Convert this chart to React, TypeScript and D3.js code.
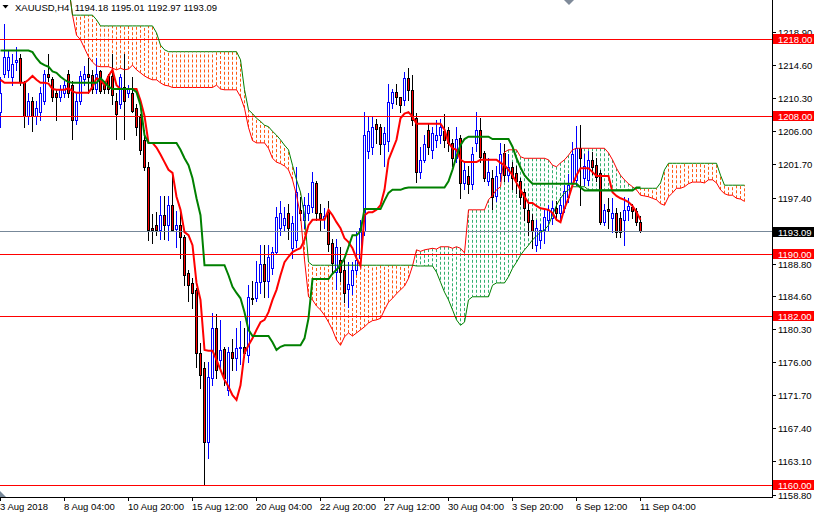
import { useEffect, useRef } from "react";
import * as d3 from "d3";

// H4 candles, one entry per bar (bar 0 = 3 Aug 2018, bar 160 = 11 Sep 04:00)
const OPEN = [
  1208.5, 1213.5, 1214, 1213, 1215, 1215.5, 1212.4, 1208, 1210, 1208,
  1208.5, 1210, 1213.5, 1212.8, 1211, 1210.5, 1211, 1213.5, 1212, 1207.5,
  1210, 1212.8, 1213.5, 1213.3, 1211.5, 1213.8, 1212, 1213.2, 1213.2, 1210,
  1209.5, 1211.8, 1211, 1211, 1209, 1207.9, 1204.9, 1201.4, 1193.5, 1193.8,
  1193.2, 1195.1, 1193.8, 1196.4, 1193.3, 1193.8, 1192.3, 1187.6, 1186.3, 1185.4,
  1177.2, 1175.2, 1165.6, 1174, 1180.4, 1176.3, 1177.7, 1172.4, 1177.3, 1176.6,
  1177.8, 1178, 1176.9, 1184.4, 1184.4, 1186.4, 1188.8, 1186.5, 1188.2, 1190.3,
  1193.5, 1193.8, 1195.4, 1190.8, 1191.9, 1195.8, 1194.5, 1195.4, 1196.2, 1199.3,
  1195.4, 1194.8, 1195.5, 1191.5, 1187.7, 1189.3, 1188, 1185.5, 1186, 1188,
  1189.5, 1193, 1203.5, 1204, 1207, 1206.5, 1204.3, 1204.8, 1209.7, 1211.1,
  1210.5, 1210.1, 1212.9, 1211.4, 1207.7, 1200.7, 1202.3, 1206.2, 1203.6, 1204.9,
  1205.5, 1206, 1206.2, 1204.5, 1202.5, 1205.1, 1199.3, 1200.2, 1199.1, 1204.5,
  1206.2, 1203.2, 1199.6, 1199.9, 1197.6, 1200.6, 1203.2, 1200.3, 1201.4, 1200.6,
  1199.6, 1198.1, 1195.8, 1194.5, 1191.2, 1191.9, 1193.2, 1194.5, 1194.8, 1196,
  1195.4, 1196, 1197.5, 1199.3, 1199.7, 1203.8, 1200, 1199.7, 1202.3, 1201.6,
  1200.6, 1194.2, 1195.9, 1194.8, 1195.4, 1194.7, 1194.5, 1195.8, 1196.2, 1195.6, 1194.18,
];
const HIGH = [
  1213, 1220, 1216.5, 1216, 1217, 1216, 1212.5, 1211, 1210.5, 1210,
  1211.8, 1214, 1216, 1213, 1211.5, 1212, 1212.5, 1214, 1212.5, 1211,
  1213.8, 1214.5, 1215.5, 1214, 1215.5, 1214, 1212.5, 1213.5, 1216, 1211,
  1213.5, 1216, 1212, 1213, 1209.5, 1208.3, 1206.2, 1202, 1195.3, 1195.5,
  1197.6, 1197.6, 1197.6, 1200.3, 1195.6, 1195.6, 1192.5, 1188, 1187, 1185.6,
  1178.5, 1176, 1176, 1182.4, 1182.3, 1181.5, 1178, 1178, 1179, 1180.5,
  1181.3, 1180.4, 1186, 1186.5, 1189.2, 1191.2, 1191.2, 1191.2, 1191, 1196.2,
  1197, 1196.2, 1196.5, 1195, 1201.4, 1197.5, 1197.5, 1198, 1200.7, 1199.6,
  1196.5, 1196, 1197, 1192, 1192, 1191, 1189.5, 1189, 1189, 1193,
  1194.5, 1208.5, 1208, 1208, 1207.6, 1207, 1206.6, 1212.1, 1211.5, 1212.1,
  1210.5, 1213.7, 1214.2, 1213.3, 1208.4, 1204, 1205.5, 1207, 1206.5, 1207.5,
  1207.6, 1208.3, 1206.5, 1205, 1206.6, 1205.5, 1202, 1201.5, 1204, 1208.5,
  1207.7, 1203.5, 1202.5, 1201, 1201.5, 1204.5, 1204.4, 1203, 1202, 1201.5,
  1200, 1198.5, 1196.5, 1195.2, 1194.5, 1194, 1196, 1196.4, 1197, 1197,
  1197.5, 1199, 1200.5, 1204.6, 1206.7, 1206.8, 1203, 1203.5, 1203.3, 1202.5,
  1201, 1196.5, 1197.4, 1197.4, 1196, 1195.5, 1197.5, 1197.3, 1196.5, 1196, 1195.01,
];
const LOW = [
  1206.5, 1213, 1213, 1212, 1214, 1212, 1206.5, 1207, 1206, 1207,
  1207.5, 1209.5, 1212.5, 1210, 1207.5, 1210, 1210.5, 1210.5, 1205, 1207,
  1209.5, 1212, 1211, 1211, 1211, 1211, 1211, 1211, 1209.5, 1205,
  1209, 1205, 1210.5, 1208.5, 1205.5, 1203, 1201, 1191.9, 1191.5, 1192.5,
  1192, 1192, 1191.9, 1193, 1191, 1189.5, 1186, 1184, 1183, 1175.4,
  1172.7, 1160, 1163.5, 1173, 1174, 1175.3, 1173, 1171.7, 1175, 1175,
  1175.8, 1176.7, 1176, 1183.5, 1184, 1185, 1184.5, 1184.5, 1187.5, 1190,
  1192.5, 1193, 1192, 1189.6, 1191, 1194.5, 1193.5, 1194.5, 1195.5, 1194.5,
  1193, 1193.5, 1190.5, 1187.5, 1185.5, 1186.5, 1183.8, 1183.2, 1184.9, 1187.5,
  1188.5, 1192.5, 1202.5, 1203, 1204.5, 1203, 1201.5, 1203.5, 1209, 1209.5,
  1208.5, 1209.4, 1210.1, 1206.8, 1199.4, 1200, 1202, 1203, 1202.5, 1204,
  1204.5, 1204, 1203.5, 1201.5, 1202, 1197.3, 1198.5, 1198, 1198.5, 1203.5,
  1202, 1199.5, 1199, 1195.9, 1197, 1199.5, 1199.5, 1199.5, 1198.5, 1198,
  1196.5, 1194.5, 1192.5, 1190.8, 1190.5, 1190.8, 1191.5, 1193, 1194, 1194.5,
  1194.5, 1195.5, 1196.8, 1199, 1199, 1196.4, 1199, 1199, 1200.5, 1199.5,
  1194, 1193.8, 1193.5, 1192.9, 1192.3, 1192.3, 1191.2, 1194.5, 1194.8, 1193.8, 1192.97,
];
const CLOSE = [
  1211, 1215.7, 1215.7, 1214.8, 1215.3, 1212.4, 1208, 1210, 1208, 1209,
  1211, 1213.5, 1213, 1210.5, 1210.5, 1211.5, 1212, 1211, 1207.5, 1210,
  1213.2, 1213.5, 1213, 1211.5, 1213.5, 1211.3, 1211.5, 1211.5, 1210.7, 1208.2,
  1213, 1210, 1211.5, 1208.7, 1206.5, 1203.6, 1201.4, 1193.2, 1193.2, 1193.2,
  1195.1, 1193.8, 1196.4, 1193.2, 1193.8, 1192.3, 1187.3, 1186, 1185, 1177.2,
  1174.3, 1165.6, 1174.1, 1180.4, 1175, 1177.6, 1174, 1177.3, 1176.6, 1177.8,
  1178, 1177.2, 1184.5, 1184.2, 1186.4, 1188.8, 1186.5, 1189.7, 1190.3, 1194.9,
  1195.4, 1194.7, 1193.5, 1194.1, 1198.1, 1195.4, 1196.4, 1196.4, 1199.4, 1195.4,
  1194.7, 1195, 1191.3, 1188.9, 1191, 1187.7, 1185, 1186.2, 1188, 1189.3,
  1193.5, 1205.5, 1206, 1206.5, 1206.3, 1204.3, 1205.8, 1209.8, 1211.1, 1210.5,
  1209.4, 1212.9, 1211.4, 1207.5, 1200.7, 1202.3, 1204.4, 1204, 1205.8, 1205.5,
  1206.6, 1204.9, 1204.5, 1202.5, 1205, 1199.3, 1201, 1199.1, 1203, 1206.2,
  1202.7, 1200, 1200.7, 1197.5, 1200.2, 1203, 1200.3, 1201.4, 1200, 1199.6,
  1197.5, 1196, 1194.2, 1193, 1193.4, 1193.2, 1194.9, 1195.8, 1196.1, 1195.4,
  1196.4, 1198.2, 1199, 1203, 1203.8, 1202.5, 1201.5, 1202.3, 1201.4, 1200.1,
  1194.2, 1195.8, 1195.7, 1195.4, 1192.9, 1192.9, 1195.8, 1196.3, 1195.6, 1194.2, 1193.09,
];

// Ichimoku lines
const TENKAN = [
  1212.7, 1212.3, 1212.3, 1212.3, 1212.3, 1212.3, 1212.3, 1212.7, 1213.2, 1212.7,
  1212.3, 1212.3, 1212.2, 1211.5, 1211.4, 1211.4, 1211.4, 1211.6, 1211.2, 1211,
  1211, 1211, 1211, 1211.8, 1212.9, 1212.7, 1212, 1213.2, 1214, 1212,
  1211.5, 1211.5, 1211.5, 1211.5, 1211.5, 1210, 1208, 1204.5, 1204.5, 1203.9,
  1203, 1202, 1201, 1200.6, 1197.5, 1195.8, 1192.9, 1192.5, 1191.2, 1186.3,
  1184.1, 1177.6, 1177.5, 1177.5, 1176.3, 1175, 1173.7, 1172.8, 1171.7, 1171.1,
  1173, 1177.2, 1178.2, 1179.1, 1180.2, 1181.2, 1181.5, 1182.5, 1184.1, 1185.4,
  1187.3, 1189, 1189.7, 1190.3, 1190.6, 1190.8, 1191.9, 1193.8, 1194.5, 1194.5,
  1194.5, 1194.5, 1195.8, 1195.1, 1194.2, 1193.4, 1192.1, 1191.6, 1190.8, 1189.5,
  1188.5, 1195.1, 1195.5, 1195.5, 1195.8, 1196.4, 1198.4, 1202.3, 1203.6, 1204.9,
  1207.7, 1208.3, 1208.5, 1207.9, 1207, 1207, 1207, 1207, 1207, 1207,
  1207, 1206.2, 1204.5, 1203.8, 1203.6, 1202.3, 1202, 1202, 1202, 1202,
  1202.3, 1202.3, 1202.3, 1202.3, 1202.3, 1201.9, 1201.6, 1201, 1200.3, 1199.3,
  1198.4, 1197.5, 1196.7, 1196.7, 1196.3, 1196, 1195.9, 1195.8, 1195.4, 1194.5,
  1194.2, 1196, 1197.3, 1199, 1200.3, 1201.2, 1201.2, 1201.2, 1200.7, 1200.2,
  1200.2, 1200.2, 1200.2, 1198.1, 1197.6, 1197.3, 1197.1, 1196.8, 1196.3, 1195.5, 1194.5,
];
const KIJUN = [
  1216.5, 1216.5, 1216.5, 1216.5, 1216.5, 1216.5, 1216.5, 1216.5, 1216.3, 1215.5,
  1214.9, 1214.6, 1214.4, 1213.8, 1213.6, 1213.1, 1212.7, 1212.4, 1212.3, 1212.3,
  1212.3, 1212.3, 1212.3, 1212.3, 1212.3, 1212.9, 1212.4, 1211.8, 1211.5, 1211.5,
  1211.5, 1211.5, 1211.5, 1211.5, 1211.1, 1209.4, 1205.5, 1204.5, 1204.5, 1204.5,
  1204.5, 1204.5, 1204.5, 1204.5, 1204.5, 1203.6, 1202.5, 1201.6, 1199.9, 1197.3,
  1195.1, 1188.6, 1188.6, 1188.6, 1188.6, 1188.6, 1188.6, 1187.3, 1185.8, 1185,
  1184.3, 1182.5, 1180.2, 1179.4, 1179.4, 1179.4, 1179.4, 1179.4, 1178.6, 1177.6,
  1178, 1178.2, 1178.2, 1178.2, 1178.2, 1178.2, 1179.1, 1181.7, 1186.8, 1186.8,
  1186.8, 1186.8, 1186.8, 1187.5, 1188, 1188.6, 1189.5, 1191, 1192.5, 1192.5,
  1193, 1195.9, 1195.9, 1195.9, 1195.9, 1195.9, 1197, 1198, 1198.4, 1198.4,
  1198.4, 1198.6, 1198.7, 1198.7, 1198.7, 1198.7, 1198.7, 1198.7, 1198.7, 1198.7,
  1198.7, 1198.7, 1199.5, 1201, 1202.8, 1204.2, 1205, 1205.3, 1205.3, 1205.3,
  1205.3, 1205.3, 1205.3, 1205, 1205, 1205, 1205, 1205, 1204, 1202.5,
  1201.3, 1200.3, 1199.7, 1199.2, 1199.2, 1199.2, 1199.2, 1199.2, 1199.2, 1199.2,
  1199.2, 1199.2, 1199.2, 1199.2, 1199.2, 1198.7, 1198.3, 1198.3, 1198.3, 1198.3,
  1198.3, 1198.3, 1198.3, 1198.3, 1198.3, 1198.3, 1198.3, 1198.3, 1198.3, 1198.7, 1198.7,
];
// Senkou spans, already shifted 26 bars forward (bars 0..186)
const SPAN_A = [
  1225, 1225, 1225, 1225, 1225, 1225, 1225, 1225, 1225, 1225,
  1225, 1225, 1225, 1225, 1225, 1225, 1225, 1225, 1221.1, 1218.5,
  1217.9, 1216.8, 1215.7, 1215, 1214.5, 1214.4, 1214.4, 1214.4, 1214.2, 1214,
  1214.2, 1214, 1214.1, 1214.6, 1214, 1213.6, 1213.2, 1212.9, 1212.7, 1212.7,
  1212.3, 1212, 1211.9, 1211.7, 1211.7, 1211.7, 1211.7, 1211.7, 1211.7, 1211.7,
  1211.7, 1211.7, 1211.7, 1211.7, 1212, 1211.5, 1211.4, 1211.4, 1211.4, 1211.4,
  1210.5, 1209, 1206.5, 1204.8, 1204.5, 1204.5, 1204.5, 1203.8, 1202.5, 1202,
  1201.8, 1201.5, 1201, 1199.7, 1197.7, 1195.1, 1189.3, 1184.5, 1184.1, 1183.3,
  1182.8, 1182.1, 1181.2, 1180.2, 1178.9, 1178.2, 1179.3, 1179.8, 1179.4, 1179.8,
  1180.2, 1180.6, 1181.1, 1181.4, 1181.5, 1181.7, 1182.8, 1183.8, 1184.3, 1184.9,
  1185.4, 1185.9, 1186.9, 1188.5, 1190.6, 1190.4, 1190.6, 1190.7, 1190.8, 1190.7,
  1191, 1191, 1191, 1190.8, 1191, 1190.8, 1190.2, 1195.8, 1195.8, 1195.8,
  1195.8, 1195.8, 1197.1, 1197.7, 1198.4, 1198.8, 1203.3, 1203.6, 1203.6, 1203.6,
  1202.7, 1202.5, 1202.5, 1202.5, 1202.5, 1202.5, 1202.5, 1202.3, 1201.6, 1201.4,
  1201.9, 1202.3, 1202.9, 1203.6, 1203.8, 1203.8, 1203.8, 1203.8, 1203.8, 1203.8,
  1203.8, 1203.8, 1203.2, 1202.3, 1201.2, 1200.3, 1199.7, 1199.2, 1198.8, 1198.4,
  1197.7, 1197.6, 1197.5, 1197.3, 1197.1, 1196.6, 1196.4, 1197.5, 1198, 1198.6,
  1198.6, 1198.8, 1199.2, 1199.4, 1199.4, 1199.4, 1199.3, 1199.7, 1199.7, 1199.3,
  1198.4, 1197.9, 1197.7, 1197.7, 1197.3, 1197.2, 1196.9,
];
const SPAN_B = [
  1225, 1225, 1225, 1225, 1225, 1225, 1225, 1225, 1225, 1225,
  1225, 1225, 1225, 1225, 1225, 1225, 1225, 1225, 1221.1, 1221.1,
  1221.1, 1221.1, 1221.1, 1221.1, 1220.5, 1219.7, 1219.7, 1219.7, 1219.7, 1219.7,
  1219.7, 1219.7, 1219.7, 1219.7, 1219.7, 1219.7, 1219.7, 1219.7, 1219.7, 1218.8,
  1217.2, 1216.6, 1216.35, 1216.35, 1216.35, 1216.35, 1216.35, 1216.35, 1216.35, 1216.35,
  1216.35, 1216.35, 1216.35, 1216.35, 1216.35, 1216.35, 1216.35, 1216.35, 1216.35, 1216.35,
  1215.3, 1211.4, 1208.8, 1208.3, 1207.7, 1207.3, 1206.8, 1206.6, 1206, 1205.5,
  1204.9, 1204.2, 1203.6, 1201.6, 1199.7, 1198.1, 1195.1, 1189, 1188.6, 1188.6,
  1188.6, 1188.6, 1188.6, 1188.6, 1188.6, 1188.6, 1188.6, 1188.6, 1188.6, 1188.6,
  1188.6, 1188.6, 1188.6, 1188.6, 1188.6, 1188.6, 1188.6, 1188.6, 1188.6, 1188.6,
  1188.6, 1188.6, 1188.6, 1188.6, 1188.5, 1188.5, 1188.5, 1188.5, 1188.5, 1187.7,
  1186.4, 1185.1, 1184.1, 1182.8, 1181.5, 1180.8, 1181.2, 1184.1, 1184.5, 1184.5,
  1184.5, 1184.5, 1184.5, 1186, 1186.3, 1186.3, 1186.3, 1187.1, 1188.2, 1189,
  1189.9, 1190.6, 1191.2, 1191.9, 1192.4, 1192.9, 1193.2, 1193.8, 1195.1, 1196.4,
  1197.3, 1198, 1198.4, 1198.8, 1198.8, 1198.8, 1198.8, 1198.4, 1198.4, 1198.4,
  1198.4, 1198.4, 1198.4, 1198.4, 1198.4, 1198.4, 1198.4, 1198.4, 1198.4, 1198.6,
  1198.6, 1198.6, 1198.6, 1198.6, 1198.6, 1199.3, 1201, 1201.85, 1201.85, 1201.85,
  1201.85, 1201.85, 1201.85, 1201.85, 1201.85, 1201.85, 1201.85, 1201.85, 1201.85, 1201.85,
  1200.3, 1199, 1199, 1199, 1199, 1199, 1199,
];

const LEVELS = [1218, 1208, 1190, 1182, 1160];
const BID = 1193.09;
const PRICE_TICKS = [
  "1218.90", "1214.60", "1210.30", "1206.00", "1201.70", "1197.40", "1193.10", "1188.80",
  "1184.60", "1180.30", "1176.00", "1171.70", "1167.40", "1163.10", "1158.80",
];
const TIME_BARS = [0, 16, 32, 48, 64, 80, 96, 112, 128, 144, 160];
const TIME_LABELS = [
  "3 Aug 2018", "8 Aug 04:00", "10 Aug 20:00", "15 Aug 12:00", "20 Aug 04:00", "22 Aug 20:00",
  "27 Aug 12:00", "30 Aug 04:00", "3 Sep 20:00", "6 Sep 12:00", "11 Sep 04:00",
];
const HEADER = "XAUUSD,H4  1194.18 1195.01 1192.97 1193.09";

export default function App() {
  const ref = useRef<SVGSVGElement>(null);

  useEffect(() => {
    const svg = d3.select(ref.current);
    svg.selectAll("*").remove();

    const W = 814, H = 514;
    const RIGHT = 772, BOTTOM = 497;
    const FONT = "'Liberation Sans', Arial, sans-serif";
    const ORANGE = "#ff5a14";
    const CLOUD_GREEN = "#33b070";

    // 4px per bar, bar i centred on pixel 4i
    const x = d3.scaleLinear().domain([0, 1]).range([0, 4]);
    const y = d3.scaleLinear().domain([1218, 1160]).range([39, 485.3]);
    const py = (v: number) => Math.round(y(v)) + 0.5;

    svg.append("rect").attr("width", W).attr("height", H).attr("fill", "#fff");
    svg.append("defs").append("clipPath").attr("id", "plot")
      .append("rect").attr("width", RIGHT).attr("height", BOTTOM);
    const plot = svg.append("g").attr("clip-path", "url(#plot)");

    // kumo hatch: a dotted stroke per bar between the two spans
    plot.append("g").selectAll("line").data(SPAN_A).join("line")
      .attr("x1", (_, i) => x(i) + 0.5).attr("x2", (_, i) => x(i) + 0.5)
      .attr("y1", (d) => y(d)).attr("y2", (_, i) => y(SPAN_B[i]))
      .attr("stroke", (d, i) => (SPAN_B[i] > d ? ORANGE : CLOUD_GREEN))
      .attr("stroke-width", 1).attr("stroke-dasharray", "3,2");

    // candles
    const candles = plot.append("g");
    OPEN.forEach((o, i) => {
      const c = CLOSE[i];
      const up = c >= o;
      const cx = x(i) + 0.5;
      candles.append("line")
        .attr("x1", cx).attr("x2", cx)
        .attr("y1", Math.round(y(HIGH[i]))).attr("y2", Math.round(y(LOW[i])) + 1)
        .attr("stroke", up ? "#0000ff" : "#000").attr("stroke-width", 1);
      const top = Math.round(y(Math.max(o, c)));
      const bot = Math.round(y(Math.min(o, c)));
      candles.append("rect")
        .attr("x", cx - 1).attr("width", 2)
        .attr("y", top + 0.5).attr("height", Math.max(bot - top, 0))
        .attr("fill", up ? "#fff" : "#ff0000")
        .attr("stroke", up ? "#0000ff" : "#000").attr("stroke-width", 1);
    });

    // horizontal levels and bid line
    LEVELS.forEach((v) => {
      plot.append("line").attr("x1", 0).attr("x2", RIGHT)
        .attr("y1", py(v)).attr("y2", py(v)).attr("stroke", "#ff0000");
    });
    plot.append("line").attr("x1", 0).attr("x2", RIGHT)
      .attr("y1", py(BID)).attr("y2", py(BID)).attr("stroke", "#778899");

    // ichimoku lines
    const line = (arr: number[]) =>
      d3.line<number>().x((_, i) => x(i) + 0.5).y((d) => y(d))(arr);
    plot.append("path").attr("d", line(SPAN_A)).attr("fill", "none").attr("stroke", "#ff0000").attr("stroke-width", 1);
    plot.append("path").attr("d", line(SPAN_B)).attr("fill", "none").attr("stroke", "#008000").attr("stroke-width", 1);
    plot.append("path").attr("d", line(TENKAN)).attr("fill", "none").attr("stroke", "#ff0000").attr("stroke-width", 2);
    plot.append("path").attr("d", line(KIJUN)).attr("fill", "none").attr("stroke", "#008000").attr("stroke-width", 2);

    // axes frame
    svg.append("line").attr("x1", RIGHT + 0.5).attr("x2", RIGHT + 0.5).attr("y1", 0).attr("y2", BOTTOM + 1).attr("stroke", "#000");
    svg.append("line").attr("x1", 0).attr("x2", RIGHT + 1).attr("y1", BOTTOM + 0.5).attr("y2", BOTTOM + 0.5).attr("stroke", "#000");

    // price scale
    PRICE_TICKS.forEach((t) => {
      const yy = py(+t);
      svg.append("line").attr("x1", RIGHT).attr("x2", RIGHT + 4).attr("y1", yy).attr("y2", yy).attr("stroke", "#000");
      svg.append("text").attr("x", 778).attr("y", yy + 3.5).text(t)
        .attr("font-family", FONT).attr("font-size", 9.5).attr("fill", "#000");
    });
    LEVELS.forEach((v) => {
      const yy = Math.round(y(v));
      svg.append("rect").attr("x", 773).attr("y", yy - 5).attr("width", 41).attr("height", 10).attr("fill", "#ff0000");
      svg.append("text").attr("x", 778).attr("y", yy + 4).text(v.toFixed(2))
        .attr("font-family", FONT).attr("font-size", 9.5).attr("fill", "#fff");
    });
    {
      const yy = Math.round(y(BID));
      svg.append("rect").attr("x", 773).attr("y", yy - 4).attr("width", 41).attr("height", 10).attr("fill", "#000");
      svg.append("text").attr("x", 778).attr("y", yy + 5).text(BID.toFixed(2))
        .attr("font-family", FONT).attr("font-size", 9.5).attr("fill", "#fff");
    }

    // time scale
    TIME_BARS.forEach((b, k) => {
      const xx = x(b) + 0.5;
      svg.append("line").attr("x1", xx).attr("x2", xx).attr("y1", BOTTOM).attr("y2", BOTTOM + 4).attr("stroke", "#000");
      svg.append("text").attr("x", x(b)).attr("y", 510).text(TIME_LABELS[k])
        .attr("font-family", FONT).attr("font-size", 9.5).attr("fill", "#000");
    });

    // header and small markers
    svg.append("path").attr("d", "M2.5,5 L8.5,5 L5.5,8.5 Z").attr("fill", "#000");
    svg.append("text").attr("x", 15).attr("y", 10.5).text(HEADER)
      .attr("font-family", FONT).attr("font-size", 9.5).attr("fill", "#000")
      .attr("xml:space", "preserve").style("white-space", "pre");
    svg.append("path").attr("d", "M564,0 L574,0 L569,5 Z").attr("fill", "#7f8a99");
    svg.append("path").attr("d", "M0,491 L6,497 L0,497 Z").attr("fill", "#778899");
  }, []);

  return (
    <div style={{ position: "fixed", left: 0, top: 0 }}>
      <svg ref={ref} width={814} height={514} style={{ display: "block" }} />
    </div>
  );
}
